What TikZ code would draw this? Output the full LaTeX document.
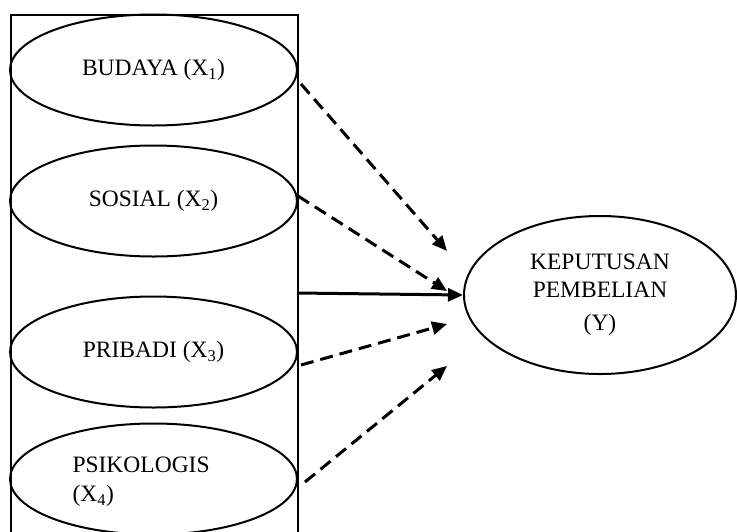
\documentclass[tikz,border=0pt]{standalone}
\usepackage{fontspec}
\setmainfont{Liberation Serif}
\usetikzlibrary{shapes.geometric,arrows.meta}
\begin{document}
\begin{tikzpicture}[x=1pt,y=-1pt,
  var/.style={draw,line width=2pt,ellipse,minimum width=287pt,minimum height=111pt,inner sep=0pt,font=\fontsize{23.5}{28}\selectfont},
  frame/.style={draw,line width=2pt},
  dash arrow/.style={line width=3pt,dash pattern=on 13pt off 7pt,-{Triangle[length=15pt,width=13pt]}},
  solid arrow/.style={line width=3pt,-{Triangle[length=15pt,width=13pt]}}]
\useasboundingbox (0,0) rectangle (737,531);
\clip (0,0) rectangle (737,531);
\node[frame,minimum width=287pt,minimum height=540pt,inner sep=0pt,anchor=north west] (box) at (10,14) {};
\node[var] (b1) at (153.5,70) {BUDAYA (X\textsubscript{1})};
\node[var] (b2) at (153.5,201) {SOSIAL (X\textsubscript{2})};
\node[var] (b3) at (153.5,352) {PRIBADI (X\textsubscript{3})};
\node[var] (b4) at (153.5,479) {};
\node[font=\fontsize{23.5}{29}\selectfont,align=left,anchor=west] (t4) at (69,482) {PSIKOLOGIS\\(X\textsubscript{4})};
\node[draw,line width=2pt,ellipse,minimum width=272pt,minimum height=158pt,inner sep=0pt,align=center,font=\fontsize{23.5}{28}\selectfont] (y) at (600,295) {KEPUTUSAN\\PEMBELIAN\\[5pt](Y)};
\coordinate (s1) at (301,84);
\coordinate (e1) at (447,251);
\coordinate (s2) at (298,196);
\coordinate (e2) at (447,291);
\coordinate (s0) at (297,293);
\coordinate (s3) at (301,365);
\coordinate (e3) at (447,324);
\coordinate (s4) at (305,482);
\coordinate (e4) at (447,366);
\draw[dash arrow] (s1) -- (e1);
\draw[dash arrow] (s2) -- (e2);
\draw[solid arrow] (s0) -- (y.west);
\draw[dash arrow] (s3) -- (e3);
\draw[dash arrow] (s4) -- (e4);
\end{tikzpicture}
\end{document}
